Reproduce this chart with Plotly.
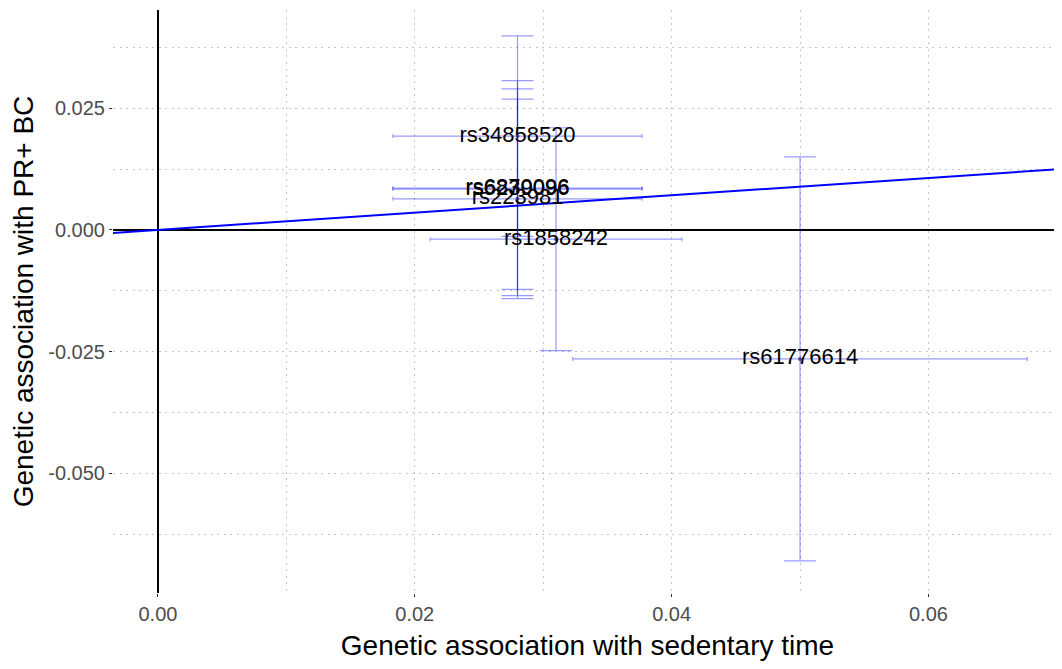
import plotly.graph_objects as go

# ---- data ----
snp = ["rs34858520", "rs6870096", "rs6239096", "rs223981", "rs1858242", "rs61776614"]
bx = [0.0280, 0.0280, 0.0280, 0.0280, 0.0310, 0.0500]          # association with sedentary time
bx_ci = [0.0097, 0.0097, 0.0097, 0.0097, 0.0098, 0.0177]      # half-width of CI (x)
by = [0.0193, 0.0086, 0.0084, 0.0064, -0.0019, -0.0265]        # association with PR+ BC
by_ci = [0.0206, 0.0221, 0.0206, 0.0205, 0.0229, 0.0415]      # half-width of CI (y)
ivw_slope = 0.178
x_range = [-0.0035, 0.0704]
y_range = [-0.0746, 0.0452]
x_ticks = [0.00, 0.02, 0.04, 0.06]
x_ticklabels = ["0.00", "0.02", "0.04", "0.06"]
y_ticks = [-0.050, -0.025, 0.000, 0.025]
y_ticklabels = ["-0.050", "-0.025", "0.000", "0.025"]

FONT = "Liberation Sans, Arial, sans-serif"
ebar = "rgba(0,0,255,0.40)"

fig = go.Figure()

fig.add_trace(go.Scatter(
    x=bx, y=by, mode="markers",
    marker=dict(size=4, color="rgba(30,30,120,0.7)"),
    error_x=dict(type="data", array=bx_ci, color=ebar, thickness=1.2, width=2),
    error_y=dict(type="data", array=by_ci, color=ebar, thickness=1.2, width=16),
    showlegend=False, hoverinfo="skip",
))

# IVW fit line through origin across the full x range
fig.add_trace(go.Scatter(
    x=x_range, y=[ivw_slope * v for v in x_range], mode="lines",
    line=dict(color="#0000ff", width=2), showlegend=False, hoverinfo="skip",
))

fig.add_trace(go.Scatter(
    x=bx, y=by, mode="text", text=snp, textposition="middle center",
    textfont=dict(family=FONT, size=22, color="#000000"),
    showlegend=False, hoverinfo="skip",
))

grid = dict(showgrid=True, gridcolor="#c4c4c4", gridwidth=1, griddash="2px,4.5px")

# the page body adds an 8px offset, so the figure is shrunk and margins shifted
fig.update_layout(
    width=1054, height=653,
    margin=dict(l=105, r=0, t=2, b=68),
    paper_bgcolor="white", plot_bgcolor="white",
    font=dict(family=FONT),
)
fig.update_xaxes(
    range=x_range, tickvals=x_ticks, ticktext=x_ticklabels,
    tickfont=dict(size=20, color="#4d4d4d", family=FONT),
    ticks="outside", ticklen=3, tickcolor="#333333",
    zeroline=True, zerolinecolor="black", zerolinewidth=1.8, showline=False,
    title=dict(text="Genetic association with sedentary time",
               font=dict(size=28, color="black", family=FONT), standoff=15),
    minor=dict(dtick=0.01, tick0=0, **grid),
    **grid,
)
fig.update_yaxes(
    range=y_range, tickvals=y_ticks, ticktext=y_ticklabels,
    tickfont=dict(size=20, color="#4d4d4d", family=FONT),
    ticks="outside", ticklen=3, tickcolor="#333333",
    zeroline=True, zerolinecolor="black", zerolinewidth=1.8, showline=False,
    title=dict(text="Genetic association with PR+ BC",
               font=dict(size=28, color="black", family=FONT), standoff=15),
    minor=dict(dtick=0.0125, tick0=0, **grid),
    **grid,
)

fig.write_html("out.html")
